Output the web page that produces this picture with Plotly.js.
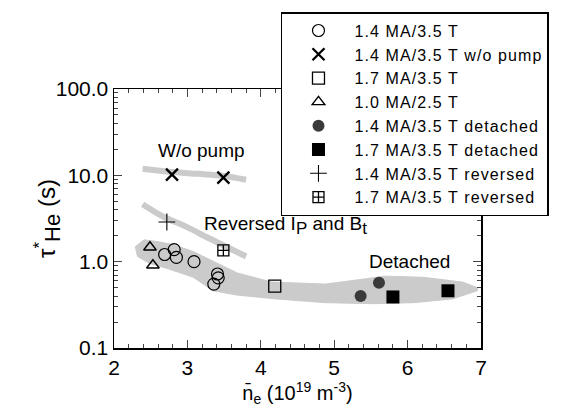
<!DOCTYPE html>
<html>
<head>
<meta charset="utf-8">
<script src="https://cdn.plot.ly/plotly-3.0.1.min.js"></script>
<style>
body{margin:0;padding:0;background:#fff;}
#chart{width:561px;height:420px;}
.legendtext{letter-spacing:1.1px;}
g.legendpoints path.scatterpts{transform:translate(36px,0px) !important;}
</style>
</head>
<body>
<div id="chart"></div>
<script>
// ---- data ----
var circX = [2.69, 2.82, 2.85, 3.09, 3.41, 3.42, 3.36];
var circY = [1.21, 1.38, 1.12, 1.00, 0.72, 0.65, 0.55];
var woX = [2.79, 3.49];
var woY = [10.2, 9.4];
var sqX = [4.19];
var sqY = [0.52];
var triX = [2.49, 2.53];
var triY = [1.47, 0.91];
var detCircX = [5.36, 5.61];
var detCircY = [0.40, 0.57];
var detSqX = [5.80, 6.55];
var detSqY = [0.39, 0.46];
var revX = [2.72];
var revY = [2.88];
var rev17X = [3.49];
var rev17Y = [1.35];

// grey trend bands
var bandWoX = [2.39, 2.75, 3.15, 3.48, 3.80];
var bandWoY = [11.9, 11.0, 10.4, 9.9, 8.9];
var bandRevX = [2.39, 2.68, 2.99, 3.28, 3.55, 3.80];
var bandRevY = [4.63, 3.29, 2.53, 1.89, 1.46, 1.15];
var bandMainX = [2.29, 2.41, 2.61, 2.81, 3.08, 3.35, 3.68, 4.15, 4.88, 5.41, 5.68, 6.21, 6.75, 6.95,
                 6.95, 6.61, 6.08, 5.55, 4.88, 4.21, 3.68, 3.35, 3.08, 2.75, 2.48, 2.32, 2.29];
var bandMainY = [1.49, 1.79, 1.70, 1.57, 1.31, 1.01, 0.74, 0.58, 0.55, 0.63, 0.68, 0.66, 0.58, 0.50,
                 0.46, 0.37, 0.335, 0.326, 0.335, 0.37, 0.41, 0.46, 0.66, 0.82, 0.96, 1.15, 1.49];

var names = ['1.4 MA/3.5 T', '1.4 MA/3.5 T w/o pump', '1.7 MA/3.5 T', '1.0 MA/2.5 T',
             '1.4 MA/3.5 T detached', '1.7 MA/3.5 T detached', '1.4 MA/3.5 T reversed', '1.7 MA/3.5 T reversed'];

var xTicks = [2, 3, 4, 5, 6, 7];
var yTickVals = [0.1, 1, 10, 100];
var yTickText = ['0.1', '1.0', '10.0', '100.0'];
var yMinor = [];
[0.1, 1, 10].forEach(function(d){ for (var k = 2; k <= 9; k++) yMinor.push(d * k); });

var band = '#cbcbcb';
var FONT = 'Liberation Sans, Arial, Helvetica, sans-serif';

var traces = [
  {x: bandMainX, y: bandMainY, mode: 'lines', fill: 'toself', fillcolor: band,
   line: {color: band, width: 1}, showlegend: false, hoverinfo: 'skip'},
  {x: bandWoX, y: bandWoY, mode: 'lines', line: {color: band, width: 6, shape: 'spline'},
   showlegend: false, hoverinfo: 'skip'},
  {x: bandRevX, y: bandRevY, mode: 'lines', line: {color: band, width: 6, shape: 'spline'},
   showlegend: false, hoverinfo: 'skip'},
  {x: circX, y: circY, name: names[0], mode: 'markers',
   marker: {symbol: 'circle-open', size: 12, color: '#000', line: {width: 1.2}}},
  {x: woX, y: woY, name: names[1], mode: 'markers',
   marker: {symbol: 'x-thin-open', size: 12, color: '#000', line: {width: 2.3}}},
  {x: sqX, y: sqY, name: names[2], mode: 'markers',
   marker: {symbol: 'square-open', size: 12, color: '#000', line: {width: 1.3}}},
  {x: triX, y: triY, name: names[3], mode: 'markers',
   marker: {symbol: 'triangle-up-open', size: 11, color: '#000', line: {width: 1.4}}},
  {x: detCircX, y: detCircY, name: names[4], mode: 'markers',
   marker: {symbol: 'circle', size: 12, color: '#3a3a3a', line: {width: 0}}},
  {x: detSqX, y: detSqY, name: names[5], mode: 'markers',
   marker: {symbol: 'square', size: 13, color: '#000', line: {width: 0}}},
  {x: revX, y: revY, name: names[6], mode: 'markers',
   marker: {symbol: 'cross-thin-open', size: 12, color: '#000', line: {width: 1.1}}},
  {x: rev17X, y: rev17Y, name: names[7], mode: 'markers',
   marker: {symbol: 'square-cross-open', size: 11, color: '#000', line: {width: 1.3}}}
];

var layout = {
  width: 561, height: 420,
  margin: {l: 114, r: 71, t: 85, b: 72},
  paper_bgcolor: '#fff', plot_bgcolor: '#fff',
  font: {family: FONT, color: '#000', size: 16},
  showlegend: true,
  legend: {x: 0.455, y: 1.297, xanchor: 'left', yanchor: 'top',
           bgcolor: '#fff', bordercolor: '#000', borderwidth: 1.5,
           font: {family: FONT, size: 16, color: '#000'}, itemwidth: 62},
  xaxis: {range: [2, 7], tickvals: xTicks, ticks: 'inside', ticklen: 8, tickwidth: 1.3,
          showline: true, linecolor: '#000', linewidth: 1.5, mirror: 'allticks',
          showgrid: false, zeroline: false, tickfont: {size: 21},
          minor: {dtick: 0.2, ticks: 'inside', ticklen: 4, tickwidth: 1, showgrid: false},
          title: {text: 'n\u0304<sub>e</sub> (10<sup>19</sup> m<sup>-3</sup>)', font: {size: 20}, standoff: 8}},
  yaxis: {type: 'log', range: [-1, 2], tickmode: 'array', tickvals: yTickVals, ticktext: yTickText,
          ticks: 'inside', ticklen: 8, tickwidth: 1.3,
          showline: true, linecolor: '#000', linewidth: 1.5, mirror: 'allticks',
          showgrid: false, zeroline: false, tickfont: {size: 21},
          minor: {tickmode: 'array', tickvals: yMinor, ticks: 'inside', ticklen: 4, tickwidth: 1, showgrid: false},
          title: {text: '\u03c4<sup>*</sup><sub><span style="font-size:22px">He</span></sub> (s)', font: {size: 24}}},
  annotations: [
    {x: 3.19, y: Math.log10(19.5), xref: 'x', yref: 'y', text: 'W/o pump', showarrow: false,
     font: {size: 19}, xanchor: 'center', yanchor: 'middle'},
    {x: 4.33, y: Math.log10(2.6), xref: 'x', yref: 'y',
     text: 'Reversed I<sub><span style="font-size:17px">P</span></sub> and B<sub><span style="font-size:17px">t</span></sub>',
     showarrow: false, font: {size: 19}, xanchor: 'center', yanchor: 'middle'},
    {x: 6.03, y: Math.log10(1.0), xref: 'x', yref: 'y', text: 'Detached', showarrow: false,
     font: {size: 19}, xanchor: 'center', yanchor: 'middle'}
  ]
};

Plotly.newPlot('chart', traces, layout, {displayModeBar: false, staticPlot: true});
</script>
</body>
</html>
